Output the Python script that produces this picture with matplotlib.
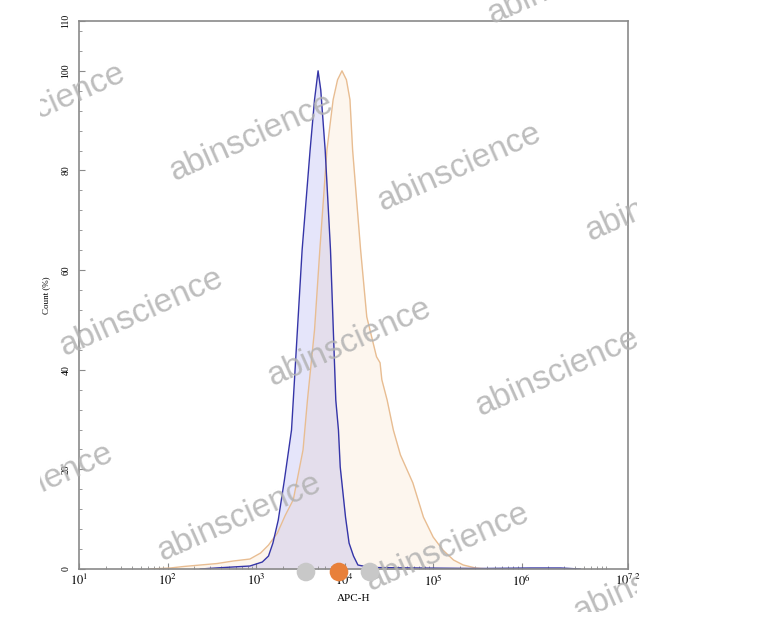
import matplotlib
matplotlib.use('Agg')
import matplotlib.pyplot as plt
from matplotlib.ticker import FixedLocator, NullFormatter

# ---------------- data (log10 APC-H, Count %) ----------------
blue_log_apc = [2.37, 2.59, 2.93, 3.07, 3.14, 3.19, 3.25, 3.32, 3.40, 3.42,
                3.52, 3.61, 3.66, 3.70, 3.73, 3.78, 3.84, 3.90, 3.93, 3.95,
                4.01, 4.05, 4.10, 4.15, 4.29, 4.85, 5.53, 6.10, 6.44, 6.66]
blue_count = [0.0, 0.25, 0.6, 1.4, 2.6, 5.2, 9.8, 17.9, 27.9, 33.9,
              64.1, 84.1, 94.2, 100.0, 96.2, 84.1, 64.1, 33.9, 27.9, 20.5,
              10.4, 5.2, 2.6, 0.8, 0.3, 0.2, 0.1, 0.2, 0.2, 0.0]

orange_log_apc = [1.80, 2.03, 2.18, 2.37, 2.56, 2.74, 2.93, 3.05, 3.14, 3.24,
                  3.33, 3.42, 3.53, 3.58, 3.66, 3.72, 3.80, 3.87, 3.92, 3.97,
                  4.02, 4.06, 4.09, 4.18, 4.25, 4.36, 4.40, 4.42, 4.48, 4.55,
                  4.63, 4.77, 4.89, 5.00, 5.11, 5.23, 5.34, 5.48, 5.64]
orange_count = [0.0, 0.2, 0.5, 0.8, 1.1, 1.6, 2.0, 3.2, 4.8, 7.2,
                10.8, 13.9, 23.9, 33.9, 48.0, 64.1, 84.1, 94.2, 98.2, 100.0,
                98.2, 94.2, 84.1, 64.1, 50.6, 42.6, 41.4, 38.0, 33.9, 27.9,
                22.9, 17.3, 10.4, 6.4, 3.8, 1.8, 0.8, 0.2, 0.0]

x_tick_exponents = [1, 2, 3, 4, 5, 6, 7.2]
x_tick_labels = [r'$10^{1}$', r'$10^{2}$', r'$10^{3}$', r'$10^{4}$',
                 r'$10^{5}$', r'$10^{6}$', r'$10^{7.2}$']
y_ticks = [0, 20, 40, 60, 80, 100, 110]
y_tick_labels = ['0', '20', '40', '60', '80', '100', '110']
x_label = 'APC-H'
y_label = 'Count (%)'
watermark = 'abinscience'

# ---------------- figure ----------------
plt.rcParams['mathtext.fontset'] = 'stix'
W, H = 780, 620
fig = plt.figure(figsize=(W / 100, H / 100), dpi=100)
ax = fig.add_axes([79 / W, 1 - 569 / H, 549 / W, 548 / H])

bx = [10 ** v for v in blue_log_apc]
ox = [10 ** v for v in orange_log_apc]

ax.fill_between(ox, orange_count, 0, color=(0.96, 0.78, 0.59), alpha=0.16, lw=0)
ax.fill_between(bx, blue_count, 0, color=(0.39, 0.39, 0.90), alpha=0.16, lw=0)
ax.plot(ox, orange_count, color='#e8bd92', lw=1.0)
ax.plot(bx, blue_count, color='#3535a8', lw=1.0)

ax.set_xscale('log')
ax.set_xlim(10 ** 1, 10 ** 7.2)
ax.set_ylim(0, 110)

ax.xaxis.set_major_locator(FixedLocator([10 ** e for e in x_tick_exponents]))
ax.set_xticklabels(x_tick_labels, fontsize=9, family='Liberation Serif')
minors = [m * 10 ** d for d in range(1, 7) for m in range(2, 10) if m * 10 ** d < 10 ** 7.2]
ax.xaxis.set_minor_locator(FixedLocator(minors))
ax.xaxis.set_minor_formatter(NullFormatter())

ax.yaxis.set_major_locator(FixedLocator(y_ticks))
ax.set_yticklabels(y_tick_labels, fontsize=7, family='Liberation Serif',
                   rotation=90, va='center')
ax.yaxis.set_minor_locator(FixedLocator([v for v in range(0, 111, 4) if v % 20 != 0]))

ax.tick_params(axis='both', which='major', direction='in', length=4,
               color='#8a8a8a', width=0.8)
ax.tick_params(axis='both', which='minor', direction='in', length=2,
               color='#8a8a8a', width=0.6)
ax.tick_params(axis='x', which='major', pad=3)
ax.tick_params(axis='y', which='major', pad=6)
for s in ax.spines.values():
    s.set_color('#8a8a8a')
    s.set_linewidth(1.2)

ax.set_xlabel(x_label, fontsize=8, family='Liberation Serif')
ax.set_ylabel(y_label, fontsize=6.5, family='Liberation Serif')
ax.xaxis.set_label_coords(0.5, (569 - 594) / 548)
ax.yaxis.set_label_coords((50 - 79) / 549, 0.5)

# ---------------- overlay (watermarks + carousel dots) ----------------
ov = fig.add_axes([40 / W, 1 - 612 / H, 597 / W, 612 / H], zorder=10)
ov.set_xlim(40, 637)
ov.set_ylim(612, 0)
ov.axis('off')
ov.patch.set_alpha(0)

wm_centers = [(252, 137), (460, 167), (668, 197), (44, 107), (570, -20),
              (142, 312), (350, 342), (558, 372), (32, 487), (240, 517),
              (448, 547), (656, 577)]
for cx, cy in wm_centers:
    ov.text(cx, cy, watermark, fontsize=24, family='Liberation Sans',
            color='#b2b2b2', alpha=0.85, rotation=24, rotation_mode='anchor',
            ha='center', va='center', clip_on=True)

dot_x = [306, 339, 370]
dot_colors = ['#c8c8c8', '#e8803a', '#c8c8c8']
ov.scatter(dot_x, [572] * 3, s=180, c=dot_colors, linewidths=0, zorder=12,
           clip_on=False)

fig.savefig('out.png', dpi=100, facecolor='white')
